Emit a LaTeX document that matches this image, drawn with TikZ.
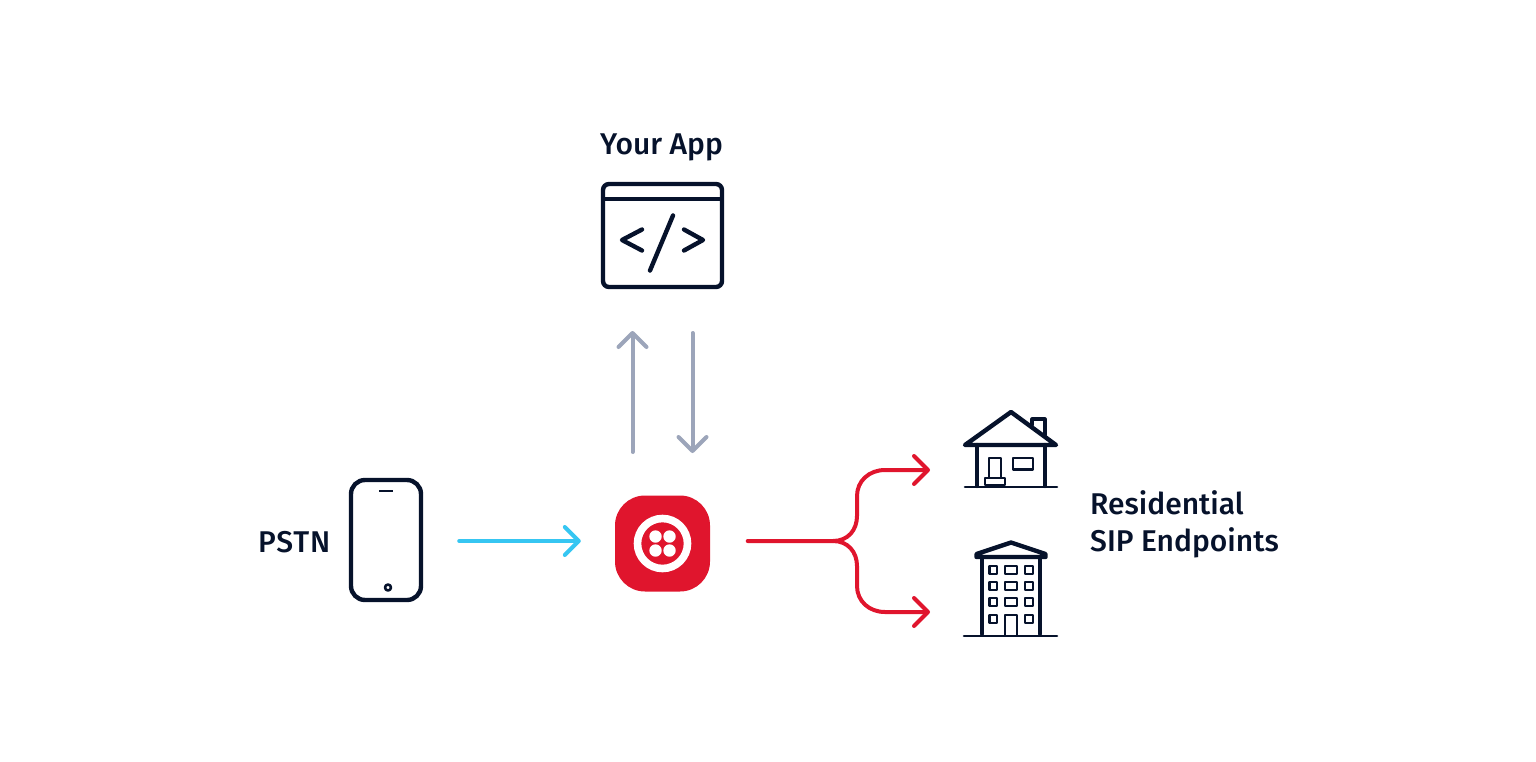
\documentclass[tikz,border=0pt]{standalone}
\usepackage{fontspec}
\setmainfont{Fira Sans Medium}
\usetikzlibrary{arrows.meta}
\definecolor{ink}{HTML}{06122B}
\definecolor{tred}{HTML}{E0152D}
\definecolor{tblue}{HTML}{36C6F2}
\definecolor{tgray}{HTML}{9CA5BA}
\tikzset{
  barb/.style={-{Straight Barb[length=14pt,width=28pt,line width=4pt,round]}},
  conn/.style={barb,line width=4pt,line cap=round,line join=round},
  icon/.style={draw=ink,line width=4.4pt,line join=round,line cap=round},
  thin icon/.style={draw=ink,line width=2.6pt,line join=round,line cap=round},
  label/.style={anchor=base west,inner sep=0pt,text=ink,font=\fontsize{30}{36}\selectfont},
  box/.style={draw=ink,line width=4.4pt,inner sep=0pt,minimum width=#1}
}
\begin{document}
\begin{tikzpicture}[x=1pt,y=-1pt]
\useasboundingbox (0,0) rectangle (1536,761);
% labels
\node[label] (applabel) at (600,154) {Your App};
\node[label] (pstnlabel) at (258,552.5) {\addfontfeature{LetterSpace=3}PSTN};
\node[label] (reslabel) at (1090,514.5) {Residential};
\node[label] (siplabel) at (1090,551) {SIP Endpoints};
% app window
\node[box=119pt,minimum height=103pt,rounded corners=6pt] (app) at (662.5,235.5) {};
\draw[thin icon,line width=3.8pt,line cap=butt] (app.west |- 0,199) -- (app.east |- 0,199);
\draw[icon] (642,229.5) -- (622,240) -- (642,250.5);
\draw[icon] (684,229.5) -- (703,240) -- (684,250.5);
\draw[icon] (673,215.5) -- (650,270.5);
% phone
\node[box=70pt,minimum height=120pt,rounded corners=14pt] (phone) at (386,540) {};
\draw[thin icon,line cap=butt] (379,491) -- (393,491);
\draw[thin icon] (388,587.5) circle (3pt);
% twilio logo
\node[fill=tred,minimum width=95pt,minimum height=96pt,inner sep=0pt,rounded corners=30pt] (twilio) at (662.5,543.5) {};
\draw[white,line width=7.6pt] (662.5,543.5) circle (25pt);
\foreach \px/\py in {655.5/536.5,669.5/536.5,655.5/550.5,669.5/550.5}
  \fill[white] (\px,\py) circle (6.2pt);
% house
\draw[icon] (965,445) -- (1011,412) -- (1056,445) -- cycle;
\draw[icon] (977,445) -- (977,486);
\draw[icon] (1045,445) -- (1045,486);
\draw[thin icon,line width=3.2pt] (1032,425) -- (1032,419) -- (1045,419) -- (1045,435);
\draw[thin icon] (965,487) -- (1057,487);
\draw[thin icon,line cap=butt] (989,477) -- (989,458) -- (1001,458) -- (1001,477);
\draw[thin icon] (985,478) rectangle (1005,485);
\draw[thin icon] (1013,458) rectangle (1033,469.5);
% building
\draw[icon] (976.5,554) -- (1011,542.5) -- (1045.5,554) -- (1045.5,557) -- (976.5,557) -- cycle;
\draw[icon] (982,557) -- (982,634);
\draw[icon] (1040,557) -- (1040,634);
\draw[thin icon] (964,636) -- (1057,636);
\foreach \wy in {566,582,598} {
  \draw[thin icon] (989.5,\wy) rectangle (997,\wy+8);
  \draw[thin icon] (1005,\wy) rectangle (1017,\wy+8);
  \draw[thin icon] (1025,\wy) rectangle (1033,\wy+8);
}
\draw[thin icon] (989.5,615) rectangle (997,623);
\draw[thin icon] (1025,615) rectangle (1033,623);
\draw[thin icon] (1005,635) -- (1005,615) -- (1017,615) -- (1017,635);
% connector ends
\coordinate (appup) at (632.5,290);
\coordinate (appdown) at (692.5,290);
\coordinate (twup) at (632.5,496);
\coordinate (twdown) at (692.5,496);
\coordinate (split) at (833,541);
\coordinate (phoneout) at (phone.east |- 0,541);
\coordinate (twin) at (twilio.west |- 0,541);
\coordinate (twout) at (twilio.east |- 0,541);
\coordinate (housein) at (930,470);
\coordinate (buildingin) at (930,612);
% connectors
\draw[conn,tgray,shorten <=44pt,shorten >=41pt] (twup) -- (appup);
\draw[conn,tgray,shorten <=43pt,shorten >=43pt] (appdown) -- (twdown);
\draw[conn,tblue,shorten <=36pt,shorten >=34pt] (phoneout) -- (twin);
\draw[conn,tred,shorten <=37.5pt] (twout) -- (split) .. controls (848,541) and (857,530) .. (857,516) -- (857,496) .. controls (857,481) and (869,470) .. (885,470) -- (housein);
\draw[conn,tred] (split) .. controls (848,541) and (857,552) .. (857,566) -- (857,586) .. controls (857,601) and (869,612) .. (885,612) -- (buildingin);
\end{tikzpicture}
\end{document}
